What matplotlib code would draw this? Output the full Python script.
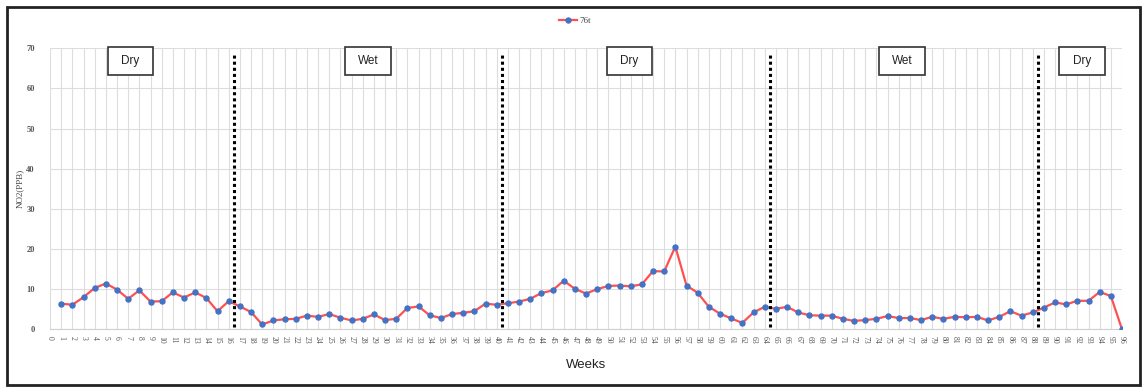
import matplotlib
matplotlib.use("Agg")
import matplotlib.pyplot as plt
from matplotlib.patches import Rectangle

weeks = list(range(1, 97))
no2_76t = [
    6.4, 6.1, 8.0, 10.3, 11.4, 9.9, 7.6, 9.7, 6.9, 7.0,
    9.2, 7.9, 9.2, 7.8, 4.5, 7.0, 5.7, 4.3, 1.2, 2.2,
    2.5, 2.6, 3.4, 3.1, 3.8, 2.9, 2.2, 2.6, 3.7, 2.3,
    2.6, 5.3, 5.7, 3.5, 2.8, 3.8, 4.1, 4.5, 6.4, 6.1,
    6.5, 6.9, 7.6, 9.0, 9.7, 12.1, 10.1, 8.9, 10.0, 10.8,
    10.9, 10.7, 11.2, 14.5, 14.4, 20.6, 10.9, 9.1, 5.6, 3.9,
    2.7, 1.6, 4.2, 5.6, 5.1, 5.6, 4.2, 3.5, 3.4, 3.4,
    2.6, 2.1, 2.3, 2.6, 3.3, 2.8, 2.8, 2.3, 3.1, 2.6,
    3.1, 3.0, 3.1, 2.2, 3.1, 4.5, 3.4, 4.2, 5.4, 6.7,
    6.2, 7.1, 7.1, 9.3, 8.3, 0.0,
]
x_ticks = list(range(0, 97))
y_ticks = [0, 10, 20, 30, 40, 50, 60, 70]
season_breaks = [16.5, 40.5, 64.5, 88.5]
season_names = ["Dry", "Wet", "Dry", "Wet", "Dry"]
season_label_x = [7.2, 28.5, 51.9, 76.3, 92.4]

W, H = 1146, 387
fig = plt.figure(figsize=(W / 100, H / 100), dpi=100)
ax = fig.add_axes([50 / W, 1 - 329.3 / H, (1122 - 50) / W, (329.3 - 48.3) / H])

ax.plot(weeks, no2_76t, color="#FF5050", lw=1.6, marker="o", ms=3.6,
        mfc="#4472C4", mec="#4472C4", label="76t", zorder=3)

ax.set_xlim(0, 96)
ax.set_ylim(0, 70)
ax.set_xticks(x_ticks)
ax.set_xticklabels([str(v) for v in x_ticks], rotation=270,
                   fontsize=5.5, family="Liberation Serif", color="#555555")
ax.set_yticks(y_ticks)
ax.set_yticklabels([str(v) for v in y_ticks], fontsize=6, family="Liberation Serif",
                   color="#555555", fontweight="bold")
ax.tick_params(axis="x", length=0, pad=5)
ax.tick_params(axis="y", length=0, pad=11)
ax.grid(True, color="#DDDDDD", lw=0.8)
ax.set_axisbelow(True)
for side in ["top", "right", "left"]:
    ax.spines[side].set_visible(False)
ax.spines["bottom"].set_color("#D0D0D0")
ax.spines["bottom"].set_linewidth(0.8)

ax.set_ylabel("NO2(PPB)", fontsize=6.5, family="Liberation Serif", color="#444444", labelpad=2)
ax.set_xlabel("Weeks", fontsize=9.5, family="Liberation Sans", color="#222222", labelpad=11)

for xb in season_breaks:
    ax.vlines(xb, 0.5, 69.2, colors="black", linestyles=(0, (1, 1)), lw=2.2, zorder=4)

box_w, box_h, box_y = 4.1, 6.8, 66.8
for name, xc in zip(season_names, season_label_x):
    ax.add_patch(Rectangle((xc - box_w / 2, box_y - box_h / 2), box_w, box_h,
                           fc="white", ec="#333333", lw=1.2, zorder=5, clip_on=False))
    ax.text(xc, box_y, name, ha="center", va="center", fontsize=8.5,
            family="Liberation Sans", color="#222222", zorder=6)

leg = ax.legend(loc="center", bbox_to_anchor=(575 / W, 1 - 21 / H),
                bbox_transform=fig.transFigure, frameon=False,
                prop={"family": "Liberation Serif", "size": 6.5},
                handlelength=2.0, handletextpad=0.2)
for t in leg.get_texts():
    t.set_color("#444444")

fig.patches.append(Rectangle((7 / W, 2 / H), (1140 - 7) / W, (380 - 2) / H,
                             transform=fig.transFigure, fill=False,
                             ec="#222222", lw=2.0))

fig.savefig("out.png", dpi=100, facecolor="white")
